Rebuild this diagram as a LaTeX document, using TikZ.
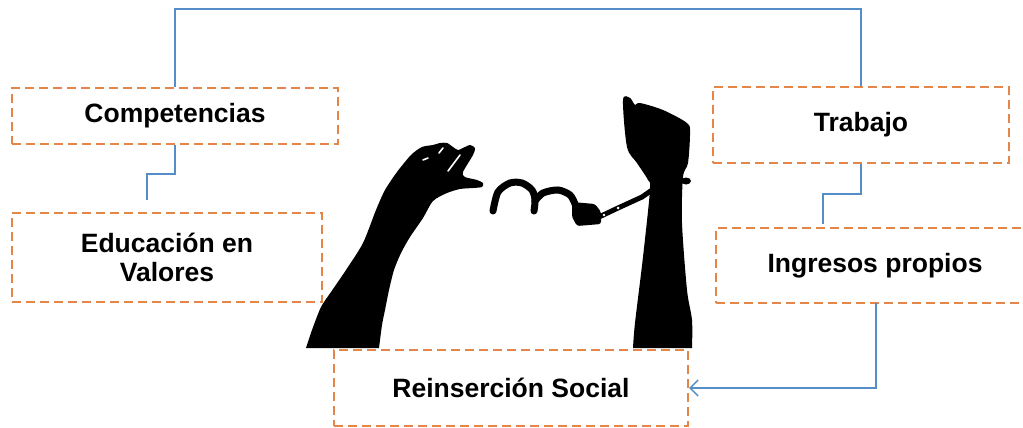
\documentclass[tikz,border=0pt]{standalone}
\usepackage{fontspec}
\setmainfont{Liberation Sans}
\usepackage{xcolor}
\usetikzlibrary{arrows.meta}
\definecolor{boxorange}{RGB}{228,134,72}
\definecolor{linkblue}{RGB}{84,141,200}

\begin{document}
\begin{tikzpicture}[x=1pt, y=-1pt,
          box/.style = {draw=boxorange, line width=2pt, dash pattern=on 9pt off 5pt,
          inner sep=0pt, align=center, font=\fontsize{26.5}{29}\selectfont\bfseries},
          link/.style = {draw=linkblue, line width=1.8pt},
          cuff/.style = {line width=7pt, line cap=round} ]

\useasboundingbox[fill=white] (0,0) rectangle (1023,428);

\node (comp)  [box, minimum width=326pt, minimum height=56pt] at (175,116) {Competencias};
\node (edu)   [box, minimum width=310pt, minimum height=89pt] at (167,257.5) {Educación en\\Valores};
\node (trab)  [box, minimum width=296pt, minimum height=76pt] at (861,125) {Trabajo};
\node (ingr)  [box, minimum width=318pt, minimum height=75pt] at (875,265.5) {Ingresos propios};
\node (reins) [box, minimum width=354pt, minimum height=76pt] at (511,388) {Reinserción Social};

\coordinate (top)    at (175,9);
\coordinate (eduin)  at (147,200);
\coordinate (ingrin) at (823,224);
\coordinate (ingrout) at (876,303);

\draw[link] (comp.north) -- (top) -| (trab.north);
\draw[link] (comp.south) -- ++(0,29) -| (eduin);
\draw[link] (trab.south) -- ++(0,30) -| (ingrin);
\draw[link, -{Straight Barb[length=8pt, width=16pt, line width=1.5pt]}]
      (ingrout) |- (reins.east);

% left arm
\fill (306,348) -- plot[smooth, tension=0.45] coordinates {(306,348) (312,330) (321,307)
      (331,292) (346,270) (363,243) (376,210) (385,190) (397,172) (411,155) (422,147)
      (433,145) (440,143) (447,143) (453,147) (458,150) (465,147) (470,145) (475,148)
      (473,155) (463,172) (465,177) (477,180) (483,183) (482,187) (473,188) (460,189)
      (447,193) (433,201) (423,218) (410,237) (401,253) (394,270) (389,290) (385,310)
      (382,325) (379,348)} -- cycle;
\draw[white, line width=1.6pt, line cap=round] (423,160) -- (428,158)
      (460,155) -- (448,171) (443,148) -- (439,153);

% right arm
\fill (633,348) -- plot[smooth, tension=0.5] coordinates {(633,348) (635,323) (643,257)
      (650,190) (648,180) (637,163) (627,147) (623,100) (630,98) (635,105) (640,103)
      (663,110) (687,123) (690,133) (688,163) (683,177) (682,223) (687,290) (692,320)
      (692,348)} -- cycle;
\fill (686,181) ellipse [x radius=5pt, y radius=3.5pt];

% handcuffs
\draw[cuff] plot[smooth] coordinates {(493,211) (498,192) (510,183) (522,183) (532,190)
      (535,200) (534,211)};
\draw[cuff] plot[smooth] coordinates {(535,201) (543,193) (558,190) (570,195) (575,204)};
\fill[rounded corners=2.5pt] (572,202) -- (595,204) -- (601,212) -- (601,224) -- (577,226)
      -- (572,217) -- cycle;
\draw[line width=5pt, line cap=round] (599,217) -- (618,208) -- (642,197) -- (652,190);
\fill[white] (618,208) circle (1.5pt) (604,215) circle (1.3pt);
\end{tikzpicture}
\end{document}
